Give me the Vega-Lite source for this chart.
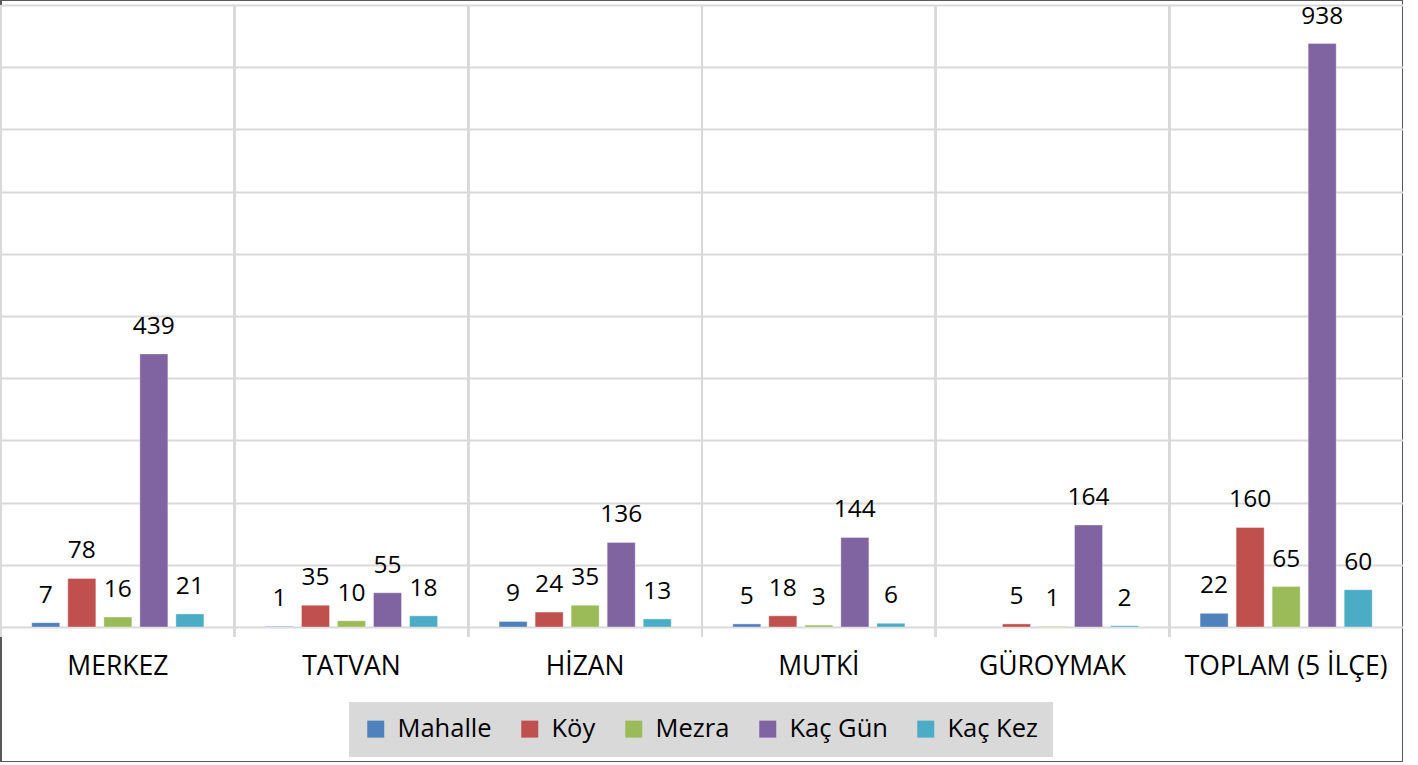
{
  "$schema": "https://vega.github.io/schema/vega-lite/v6.json",
  "width": 1402,
  "height": 762,
  "padding": {"left": 1, "top": 0, "right": 0, "bottom": 0},
  "autosize": {"type": "none"},
  "background": "white",
  "config": {
    "view": {"stroke": "#595959", "strokeWidth": 2},
    "font": "Open Sans"
  },
  "data": {
    "values": [
      {"ilce": "MERKEZ", "seri": "Mahalle", "deger": 7},
      {"ilce": "MERKEZ", "seri": "Köy", "deger": 78},
      {"ilce": "MERKEZ", "seri": "Mezra", "deger": 16},
      {"ilce": "MERKEZ", "seri": "Kaç Gün", "deger": 439},
      {"ilce": "MERKEZ", "seri": "Kaç Kez", "deger": 21},
      {"ilce": "TATVAN", "seri": "Mahalle", "deger": 1},
      {"ilce": "TATVAN", "seri": "Köy", "deger": 35},
      {"ilce": "TATVAN", "seri": "Mezra", "deger": 10},
      {"ilce": "TATVAN", "seri": "Kaç Gün", "deger": 55},
      {"ilce": "TATVAN", "seri": "Kaç Kez", "deger": 18},
      {"ilce": "HİZAN", "seri": "Mahalle", "deger": 9},
      {"ilce": "HİZAN", "seri": "Köy", "deger": 24},
      {"ilce": "HİZAN", "seri": "Mezra", "deger": 35},
      {"ilce": "HİZAN", "seri": "Kaç Gün", "deger": 136},
      {"ilce": "HİZAN", "seri": "Kaç Kez", "deger": 13},
      {"ilce": "MUTKİ", "seri": "Mahalle", "deger": 5},
      {"ilce": "MUTKİ", "seri": "Köy", "deger": 18},
      {"ilce": "MUTKİ", "seri": "Mezra", "deger": 3},
      {"ilce": "MUTKİ", "seri": "Kaç Gün", "deger": 144},
      {"ilce": "MUTKİ", "seri": "Kaç Kez", "deger": 6},
      {"ilce": "GÜROYMAK", "seri": "Köy", "deger": 5},
      {"ilce": "GÜROYMAK", "seri": "Mezra", "deger": 1},
      {"ilce": "GÜROYMAK", "seri": "Kaç Gün", "deger": 164},
      {"ilce": "GÜROYMAK", "seri": "Kaç Kez", "deger": 2},
      {"ilce": "TOPLAM (5 İLÇE)", "seri": "Mahalle", "deger": 22},
      {"ilce": "TOPLAM (5 İLÇE)", "seri": "Köy", "deger": 160},
      {"ilce": "TOPLAM (5 İLÇE)", "seri": "Mezra", "deger": 65},
      {"ilce": "TOPLAM (5 İLÇE)", "seri": "Kaç Gün", "deger": 938},
      {"ilce": "TOPLAM (5 İLÇE)", "seri": "Kaç Kez", "deger": 60}
    ]
  },
  "encoding": {
    "x": {
      "field": "ilce",
      "type": "nominal",
      "sort": null,
      "scale": {"paddingInner": 0, "paddingOuter": 0, "domain": ["MERKEZ", "TATVAN", "HİZAN", "MUTKİ", "GÜROYMAK", "TOPLAM (5 İLÇE)"]},
      "axis": {
        "title": null,
        "orient": "bottom",
        "offset": -135,
        "labelAngle": 0,
        "labelFont": "Open Sans",
        "labelFontSize": 26.5,
        "labelColor": "#000000",
        "labelPadding": 26,
        "labelLimit": 0,
        "ticks": false,
        "domain": false,
        "grid": false
      }
    }
  },
  "layer": [
    {
      "mark": {"type": "rule", "color": "#d9d9d9", "strokeWidth": 2},
      "encoding": {
        "x": {"field": "ilce", "type": "nominal", "sort": null, "bandPosition": 0},
        "y": {"datum": 1000, "type": "quantitative"},
        "y2": {"datum": -16}
      }
    },
    {
      "mark": {"type": "bar", "stroke": "#ffffff", "strokeOpacity": 0.35, "strokeWidth": 1},
      "encoding": {
        "xOffset": {
          "field": "seri",
          "type": "nominal",
          "sort": ["Mahalle", "Köy", "Mezra", "Kaç Gün", "Kaç Kez"],
          "scale": {"domain": ["Mahalle", "Köy", "Mezra", "Kaç Gün", "Kaç Kez"], "paddingInner": 0.222, "paddingOuter": 0.854}
        },
        "y": {
          "field": "deger",
          "type": "quantitative",
          "scale": {"domain": [-217, 1008], "nice": false, "zero": false},
          "axis": {
            "title": null,
            "values": [0, 100, 200, 300, 400, 500, 600, 700, 800, 900, 1000],
            "grid": true,
            "gridColor": "#d9d9d9",
            "gridWidth": 2,
            "labels": false,
            "ticks": false,
            "domain": false
          }
        },
        "y2": {"datum": 0},
        "color": {
          "field": "seri",
          "type": "nominal",
          "scale": {
            "domain": ["Mahalle", "Köy", "Mezra", "Kaç Gün", "Kaç Kez"],
            "range": ["#4f81bd", "#c0504d", "#9bbb59", "#8064a2", "#4bacc6"]
          },
          "legend": {
            "title": null,
            "orient": "none",
            "direction": "horizontal",
            "legendX": 348,
            "legendY": 702,
            "fillColor": "#d9d9d9",
            "padding": 14,
            "symbolType": "square",
            "symbolSize": 289,
            "symbolStrokeWidth": 0,
            "labelFont": "Open Sans",
            "labelFontSize": 25.5,
            "labelColor": "#000000",
            "labelOffset": 9,
            "columnPadding": 25
          }
        }
      }
    },
    {
      "mark": {"type": "text", "baseline": "middle", "align": "center", "dy": -27, "font": "Open Sans", "fontSize": 24.5, "color": "#000000"},
      "encoding": {
        "xOffset": {"field": "seri", "type": "nominal", "sort": ["Mahalle", "Köy", "Mezra", "Kaç Gün", "Kaç Kez"]},
        "y": {"field": "deger", "type": "quantitative"},
        "text": {"field": "deger", "type": "quantitative"}
      }
    }
  ]
}
